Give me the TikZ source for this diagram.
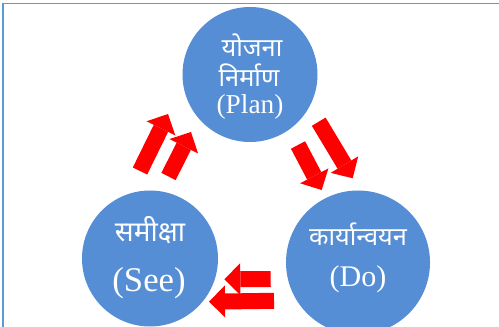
\documentclass[tikz,border=0pt]{standalone}
\usepackage{fontspec}
\setmainfont{Liberation Serif}
\newfontfamily\devfont[Script=Devanagari]{Noto Sans}
\usetikzlibrary{arrows.meta}

\definecolor{stageblue}{RGB}{85,142,213}
\definecolor{frameblue}{RGB}{91,155,213}

\tikzset{
  stage/.style={circle, fill=stageblue, draw=none, inner sep=0pt},
  stagetext/.style={text=white, inner sep=0.75pt, anchor=center},
  blockarrow/.style={draw=red, line width=12pt, -{Triangle[length=12pt,width=24pt,line width=0pt]}}
}

\begin{document}
\begin{tikzpicture}[x=0.75pt,y=0.75pt,yscale=-1,xscale=1]
\useasboundingbox (0,0) rectangle (499,327);

%Frame
\draw [frameblue, line width=1.2pt] (3,327) -- (3,3.5) -- (499,3.5);

%Shape: Circles
\node [stage, minimum size=101.25pt] (plan) at (250,74.5) {};
\node [stage, minimum size=102pt] (see) at (150,258.5) {};
\node [stage, minimum size=108pt] (do) at (358,262.5) {};

% Text Node
\node [stagetext, font=\devfont\fontsize{19}{22}\selectfont] (planhi) at (252,45) {योजना};
% Text Node
\node [stagetext, font=\devfont\fontsize{19}{22}\selectfont] (planhii) at (249,75) {निर्माण};
% Text Node
\node [stagetext, font=\fontsize{20.5}{24}\selectfont] (planen) at (250,107) {(Plan)};
% Text Node
\node [stagetext, font=\devfont\fontsize{21}{24}\selectfont] (seehi) at (150,230) {समीक्षा};
% Text Node
\node [stagetext, font=\fontsize{26}{30}\selectfont] (seeen) at (149,283) {(See)};
% Text Node
\node [stagetext, font=\devfont\fontsize{19}{24}\selectfont] (dohi) at (358,234) {कार्यान्वयन};
% Text Node
\node [stagetext, font=\fontsize{22.5}{26}\selectfont] (doen) at (358,279) {(Do)};

%Block arrows: See -> Plan
\coordinate (upa) at (140,171);
\coordinate (upb) at (168,114);
\coordinate (upc) at (168.5,176.5);
\coordinate (upd) at (191,132);
\draw [blockarrow] (upa) -- (upb);
\draw [blockarrow] (upc) -- (upd);

%Block arrows: Plan -> Do
\coordinate (dna) at (318.7,121.7);
\coordinate (dnb) at (352.7,178.3);
\coordinate (dnc) at (298,145);
\coordinate (dnd) at (321.7,190);
\draw [blockarrow] (dna) -- (dnb);
\draw [blockarrow] (dnc) -- (dnd);

%Block arrows: Do -> See
\coordinate (lfa) at (270.7,279);
\coordinate (lfb) at (224.3,279.3);
\coordinate (lfc) at (274,300.8);
\coordinate (lfd) at (209,301.7);
\draw [blockarrow] (lfa) -- (lfb);
\draw [blockarrow] (lfc) -- (lfd);

\end{tikzpicture}
\end{document}
